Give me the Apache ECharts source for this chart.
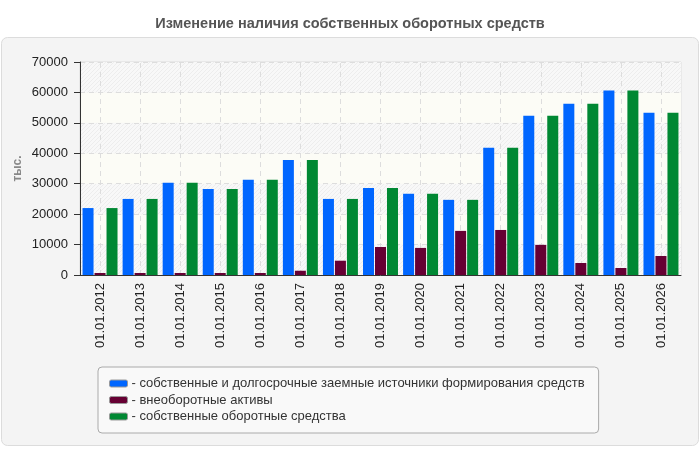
<!DOCTYPE html>
<html>
<head>
<meta charset="utf-8">
<script src="https://cdn.jsdelivr.net/npm/echarts@6/dist/echarts.min.js"></script>
<style>
  html, body { margin: 0; padding: 0; background: #fff; }
  #chart { width: 700px; height: 450px; }
</style>
</head>
<body>
<div id="chart"></div>
<script>
const categories = ['01.01.2012', '01.01.2013', '01.01.2014', '01.01.2015', '01.01.2016',
  '01.01.2017', '01.01.2018', '01.01.2019', '01.01.2020', '01.01.2021', '01.01.2022',
  '01.01.2023', '01.01.2024', '01.01.2025', '01.01.2026'];
// собственные и долгосрочные заемные источники
const sources = [22000, 25000, 30300, 28300, 31300, 37800, 25000, 28600, 26700, 24700, 41800, 52300, 56300, 60600, 53300];
// внеоборотные активы
const fixedAssets = [650, 650, 650, 650, 650, 1400, 4700, 9200, 8900, 14500, 14800, 9900, 3950, 2300, 6250];
// собственные оборотные средства
const workingCapital = [22000, 25000, 30300, 28300, 31300, 37800, 25000, 28600, 26700, 24700, 41800, 52300, 56300, 60600, 53300];

const seriesNames = [
  'собственные и долгосрочные заемные источники формирования средств',
  'внеоборотные активы',
  'собственные оборотные средства'
];
const colors = ['#0066ff', '#660033', '#008833'];

// hatched stripes for every other band of the plot background
function hatch() {
  const c = document.createElement('canvas');
  c.width = 4; c.height = 4;
  const ctx = c.getContext('2d');
  ctx.fillStyle = '#f8f8f8';
  ctx.fillRect(0, 0, 4, 4);
  ctx.strokeStyle = '#ededed';
  ctx.lineWidth = 1;
  ctx.beginPath();
  ctx.moveTo(0, 4); ctx.lineTo(4, 0);
  ctx.moveTo(-2, 2); ctx.lineTo(2, -2);
  ctx.moveTo(2, 6); ctx.lineTo(6, 2);
  ctx.stroke();
  return { image: c, repeat: 'repeat' };
}

const gridLine = { color: '#dddddd', type: [5, 4], width: 1 };

const chart = echarts.init(document.getElementById('chart'));

chart.setOption({
  animation: false,
  backgroundColor: '#fff',
  textStyle: { fontFamily: 'Liberation Sans, Arial, sans-serif' },
  title: {
    text: 'Изменение наличия собственных оборотных средств',
    left: 'center',
    top: 11,
    textStyle: { fontSize: 14.5, fontWeight: 'bold', color: '#555' }
  },
  graphic: [{
    type: 'rect',
    z: -10,
    shape: { x: 1.5, y: 37.5, width: 697, height: 408, r: 6 },
    style: { fill: '#f4f4f4', stroke: '#dcdcdc', lineWidth: 1 }
  }],
  grid: {
    left: 80, right: 19, top: 62, bottom: 175,
    show: true, borderColor: '#dddddd', borderWidth: 1, backgroundColor: 'transparent'
  },
  legend: {
    orient: 'vertical',
    left: 98, top: 367,
    padding: [10, 14, 10, 11],
    itemGap: 3.5,
    itemWidth: 18, itemHeight: 7,
    icon: 'roundRect',
    itemStyle: { borderColor: '#999', borderWidth: 1 },
    backgroundColor: '#f9f9f9',
    borderColor: '#aaaaaa',
    borderWidth: 1,
    borderRadius: 4,
    formatter: name => '- ' + name,
    textStyle: { fontSize: 13, color: '#333', padding: [0, 0, 0, -1] },
    data: seriesNames
  },
  xAxis: {
    type: 'category',
    data: categories,
    axisLine: { lineStyle: { color: '#333' } },
    axisTick: { alignWithLabel: true, length: 5, lineStyle: { color: '#333' } },
    axisLabel: { rotate: 90, fontSize: 13, color: '#222', margin: 8, interval: 0 },
    splitLine: { show: false }
  },
  yAxis: {
    type: 'value',
    min: 0, max: 70000, interval: 10000,
    name: 'тыс.',
    nameLocation: 'middle',
    nameGap: 56,
    nameMoveOverlap: false,
    nameTextStyle: { fontSize: 12, fontWeight: 'bold', color: '#888' },
    axisLine: { show: true, lineStyle: { color: '#333' } },
    axisTick: { show: true, length: 6, lineStyle: { color: '#333' } },
    axisLabel: { fontSize: 13, color: '#222', margin: 12, formatter: v => String(v) },
    splitLine: { lineStyle: gridLine },
    splitArea: { show: true, areaStyle: { color: [hatch(), '#fcfcf6'] } }
  },
  series: [
    {
      // vertical dashed grid through the category centres, kept behind the bars
      type: 'line', data: [], z: 1, silent: true,
      markLine: {
        z: 1, silent: true, symbol: 'none', label: { show: false },
        lineStyle: gridLine,
        data: categories.map(c => ({ xAxis: c }))
      }
    },
    { name: seriesNames[0], type: 'bar', z: 3, data: sources, barWidth: 11, barGap: '9%', itemStyle: { color: colors[0] } },
    { name: seriesNames[1], type: 'bar', z: 3, data: fixedAssets, barWidth: 11, barGap: '9%', itemStyle: { color: colors[1] } },
    { name: seriesNames[2], type: 'bar', z: 3, data: workingCapital, barWidth: 11, barGap: '9%', itemStyle: { color: colors[2] } }
  ]
});
</script>
</body>
</html>
